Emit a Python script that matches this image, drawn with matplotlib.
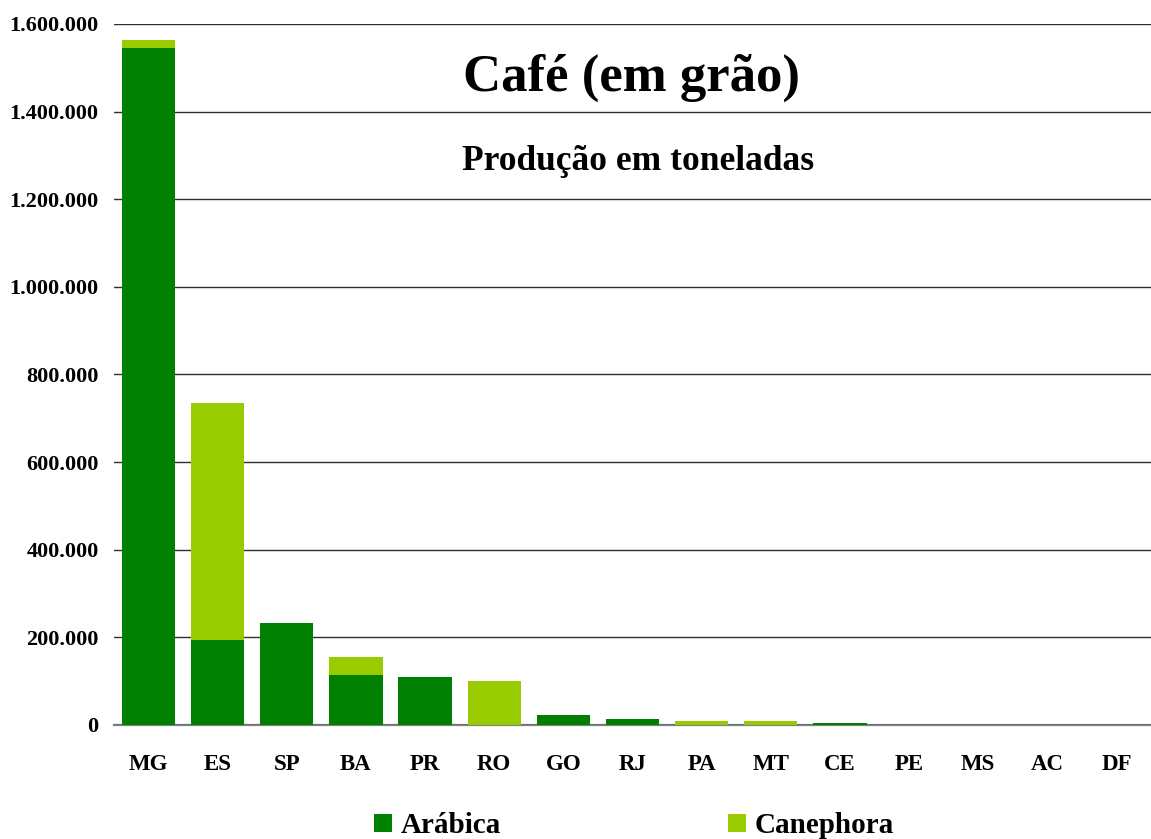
import numpy as np
import matplotlib.pyplot as plt
from matplotlib.ticker import FuncFormatter

# estados e producao (toneladas)
estados = ["MG", "ES", "SP", "BA", "PR", "RO", "GO", "RJ", "PA", "MT", "CE", "PE", "MS", "AC", "DF"]
arabica = [1545000, 194000, 233000, 114000, 110000, 0, 22000, 13000, 0, 0, 4500, 700, 500, 0, 300]
canephora = [18000, 541000, 0, 41000, 0, 100000, 0, 0, 8000, 8000, 0, 0, 0, 400, 0]
yticks = [0, 200000, 400000, 600000, 800000, 1000000, 1200000, 1400000, 1600000]

plt.rcParams['font.family'] = ['Liberation Serif', 'DejaVu Serif']
plt.rcParams['font.weight'] = 'bold'

fig = plt.figure(figsize=(11.51, 8.39), dpi=100)
ax = fig.add_axes([0.099, 0.1359, 0.901, 0.8355])

x = np.arange(len(estados))
ax.bar(x, arabica, width=0.77, color="#008000", label="Arábica", zorder=2)
ax.bar(x, canephora, width=0.77, bottom=arabica, color="#99CC00", label="Canephora", zorder=2)

ax.set_xlim(-0.5, 14.5)
ax.set_ylim(0, 1600000)
ax.set_yticks(yticks)
ax.yaxis.set_major_formatter(FuncFormatter(lambda v, p: f"{int(v):,}".replace(",", ".")))
ax.set_xticks(x)
ax.set_xticklabels(estados)
ax.tick_params(axis="y", length=0, pad=11, labelsize=16)
ax.tick_params(axis="x", length=0, pad=21, labelsize=16.5)
for lab in ax.get_xticklabels() + ax.get_yticklabels():
    lab.set_fontweight("bold")

ax.grid(axis="y", color="#303030", linewidth=1, zorder=0)
for s in ["top", "right", "left"]:
    ax.spines[s].set_visible(False)
ax.spines["bottom"].set_color("#808080")
ax.spines["bottom"].set_linewidth(1.6)
ax.spines["bottom"].set_zorder(1.5)

fig.text(0.549, 0.907, "Café (em grão)", ha="center", va="center", fontsize=38, fontweight="bold")
fig.text(0.554, 0.807, "Produção em toneladas", ha="center", va="center", fontsize=25.5, fontweight="bold")

fig.legend(loc="center", bbox_to_anchor=(0.551, 0.016), ncol=2, frameon=False,
           handlelength=0.6, handleheight=0.6, handletextpad=0.3,
           columnspacing=7.8, prop={"weight": "bold", "size": 21})

fig.savefig("out.png", dpi=100)
